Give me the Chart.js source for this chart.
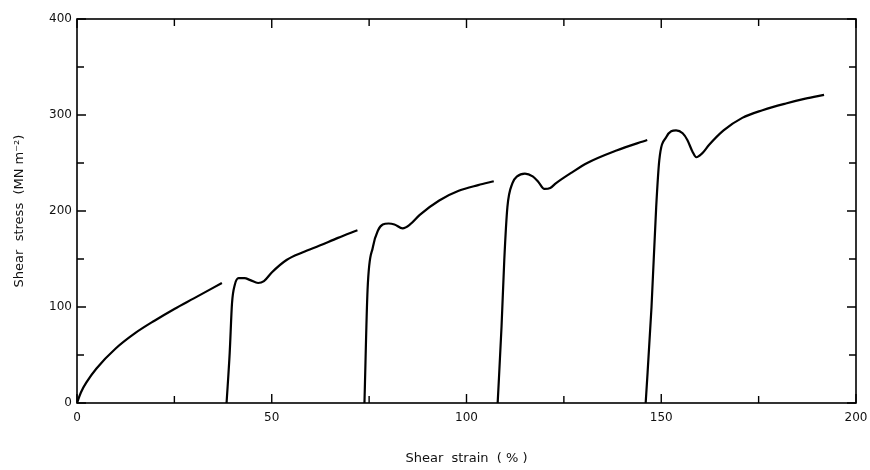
<!DOCTYPE html>
<html>
<head>
<meta charset="utf-8">
<script src="https://cdn.jsdelivr.net/npm/chart.js@4/dist/chart.umd.min.js"></script>
<style>
  html, body { margin: 0; padding: 0; background: #fff; }
  #wrap { width: 870px; height: 470px; }
</style>
</head>
<body>
<div id="wrap"><canvas id="grafica"></canvas></div>
<script>
// datos (deformacion %, tension MN m^-2)
var seg1X = [0, 1, 2.5, 5, 10, 15, 20, 25, 30, 37.2];
var seg1Y = [0, 11, 22, 36, 57, 73, 86, 98, 109, 125];

var seg2X = [38.4, 39.2, 39.8, 40.5, 41.5, 43, 44.5, 46.5, 48, 50, 53.8, 58, 62.3, 67, 72];
var seg2Y = [0, 52, 104, 123, 130, 130, 128, 125, 127, 136, 149, 157, 164, 172, 180];

var seg3X = [73.8, 74.6, 76, 77.3, 78.5, 80, 81.5, 83.6, 85.5, 88, 93, 98, 103, 107];
var seg3Y = [0, 118, 163, 180, 186, 187, 186, 182, 186, 196, 211, 221, 227, 231];

var seg4X = [108, 109, 109.7, 110.5, 111.8, 113, 115, 117, 118.5, 120, 121.5, 123, 127, 131, 138.5, 146.4];
var seg4Y = [0, 80, 149, 204, 229, 236, 239, 236, 230, 223, 224, 229, 240, 250, 263, 274];

var seg5X = [146, 147.5, 148.7, 149.5, 151.3, 153.8, 155.5, 156.7, 158, 159, 160.5, 162.3, 166, 170.8, 176, 182, 187, 191.8];
var seg5Y = [0, 100, 204, 253, 277, 284, 281, 274, 262, 256, 260, 269, 284, 297, 305, 312, 317, 321];

var xTicks = [0, 25, 50, 75, 100, 125, 150, 175, 200];
var yTicks = [0, 50, 100, 150, 200, 250, 300, 350, 400];

var segmentos = [[seg1X, seg1Y], [seg2X, seg2Y], [seg3X, seg3Y], [seg4X, seg4Y], [seg5X, seg5Y]];

function puntos(xs, ys) {
    return xs.map(function (x, i) { return { x: x, y: ys[i] }; });
}

var datasets = segmentos.map(function (s) {
    return {
        data: puntos(s[0], s[1]),
        borderColor: '#000',
        borderWidth: 2.2,
        pointRadius: 0,
        fill: false,
        showLine: true,
        cubicInterpolationMode: 'monotone'
    };
});

// marco y marcas hacia dentro
var marcoPlugin = {
    id: 'marco',
    afterDatasetsDraw: function (chart) {
        var ctx = chart.ctx;
        var a = chart.chartArea;
        var sx = chart.scales.x, sy = chart.scales.y;
        ctx.save();
        ctx.strokeStyle = '#000';
        ctx.lineWidth = 1.6;
        ctx.strokeRect(a.left, a.top, a.right - a.left, a.bottom - a.top);
        ctx.lineWidth = 1.4;
        ctx.beginPath();
        xTicks.forEach(function (v) {
            var px = sx.getPixelForValue(v);
            var len = (v % 50 === 0) ? 9 : 7;
            ctx.moveTo(px, a.bottom); ctx.lineTo(px, a.bottom - len);
            ctx.moveTo(px, a.top); ctx.lineTo(px, a.top + len);
        });
        yTicks.forEach(function (v) {
            var py = sy.getPixelForValue(v);
            var len = (v % 100 === 0) ? 9 : 7;
            ctx.moveTo(a.left, py); ctx.lineTo(a.left + len, py);
            ctx.moveTo(a.right, py); ctx.lineTo(a.right - len, py);
        });
        ctx.stroke();
        ctx.restore();
    }
};

var ctx = document.getElementById('grafica').getContext('2d');
var chart = new Chart(ctx, {
    type: 'scatter',
    data: { datasets: datasets },
    options: {
        responsive: true,
        maintainAspectRatio: false,
        animation: false,
        layout: { padding: { left: 0, right: 14, top: 19, bottom: 0 } },
        plugins: {
            legend: { display: false },
            tooltip: { enabled: false }
        },
        scales: {
            x: {
                type: 'linear',
                min: 0,
                max: 200,
                grid: { display: false, drawTicks: false },
                border: { display: false },
                ticks: {
                    stepSize: 50,
                    padding: 8,
                    color: '#111',
                    font: { family: 'DejaVu Sans', size: 12 }
                },
                title: {
                    display: true,
                    text: 'Shear  strain  ( % )',
                    color: '#111',
                    font: { family: 'DejaVu Sans', size: 13 },
                    padding: { top: 12 }
                },
                afterFit: function (scale) {
                    scale.height = 67;
                    scale.paddingRight = 0;
                }
            },
            y: {
                type: 'linear',
                min: 0,
                max: 400,
                grid: { display: false, drawTicks: false },
                border: { display: false },
                ticks: {
                    stepSize: 100,
                    padding: 5,
                    color: '#111',
                    font: { family: 'DejaVu Sans', size: 12 }
                },
                title: {
                    display: true,
                    text: 'Shear  stress  (MN m\u207B\u00B2)',
                    color: '#111',
                    font: { family: 'DejaVu Sans', size: 13 },
                    padding: { top: 12, bottom: 4 }
                },
                afterFit: function (scale) { scale.width = 77; }
            }
        }
    },
    plugins: [marcoPlugin]
});
</script>
</body>
</html>
